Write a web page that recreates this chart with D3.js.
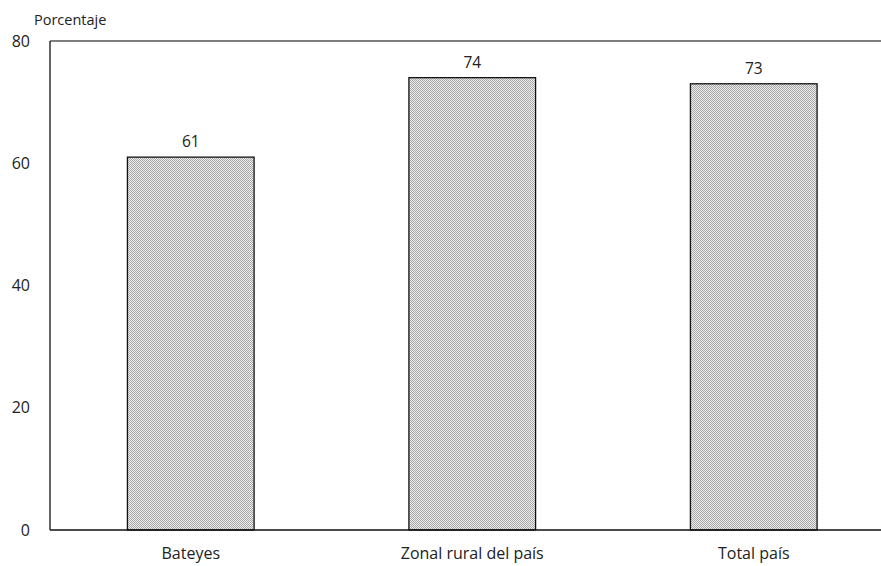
<!DOCTYPE html>
<html><head><meta charset="utf-8">
<script src="https://cdn.jsdelivr.net/npm/d3@7"></script>
<style>body{margin:0;background:#fff}svg{display:block}text{font-family:"Open Sans",Lato,sans-serif;fill:#222}</style>
</head><body><svg id="c" width="881" height="566"></svg>
<script>
const categories = ["Bateyes", "Zonal rural del país", "Total país"];
const values = [61, 74, 73];
const yTicks = [0, 20, 40, 60, 80];
const yTitle = "Porcentaje";

(function(){
const svg = d3.select("#c");
const defs = svg.append("defs");
const pat = defs.append("pattern").attr("id","dots").attr("width",2).attr("height",2).attr("patternUnits","userSpaceOnUse");
pat.append("rect").attr("width",2).attr("height",2).attr("fill","#ececec");
pat.append("rect").attr("width",1).attr("height",1).attr("fill","#a8a8a8");
pat.append("rect").attr("x",1).attr("y",1).attr("width",1).attr("height",1).attr("fill","#a8a8a8");

const mLeft = 50, mTop = 41, mBottom = 530;
const x = d3.scaleBand().domain(categories).range([mLeft, mLeft + 3*281.5]).paddingInner(0.55).paddingOuter(0.275);
const y = d3.scaleLinear().domain([0,80]).range([mBottom, mTop]);

svg.append("g").selectAll("rect").data(values).join("rect")
  .attr("x",(d,i)=>x(categories[i])).attr("width",x.bandwidth())
  .attr("y",d=>y(d)).attr("height",d=>y(0)-y(d))
  .attr("fill","url(#dots)").attr("stroke","#111").attr("stroke-width",1.3);

svg.append("g").selectAll("text").data(values).join("text")
  .attr("x",(d,i)=>x(categories[i])+x.bandwidth()/2).attr("y",d=>y(d)-10)
  .attr("text-anchor","middle").attr("font-size",15.5).text(d=>d);

svg.append("line").attr("x1",mLeft).attr("x2",881).attr("y1",mTop).attr("y2",mTop).attr("stroke","#555").attr("stroke-width",1.5);
svg.append("line").attr("x1",mLeft).attr("x2",mLeft).attr("y1",mTop).attr("y2",mBottom).attr("stroke","#111").attr("stroke-width",1.3);
svg.append("line").attr("x1",mLeft).attr("x2",881).attr("y1",mBottom).attr("y2",mBottom).attr("stroke","#111").attr("stroke-width",1.3);

const ya = d3.axisLeft(y).tickValues(yTicks).tickSize(0).tickPadding(20);
const gy = svg.append("g").attr("transform",`translate(${mLeft},0)`).call(ya);
gy.select(".domain").remove();
gy.selectAll("text").attr("font-size",16).attr("font-family","'Open Sans',Lato,sans-serif").attr("fill","#222");

const xa = d3.axisBottom(x).tickSize(0).tickPadding(18);
const gx = svg.append("g").attr("transform",`translate(0,${mBottom})`).call(xa);
gx.select(".domain").remove();
gx.selectAll("text").attr("font-size",16).attr("font-family","'Open Sans',Lato,sans-serif").attr("fill","#222");

svg.append("text").attr("x",34).attr("y",25).attr("font-size",14.5).text(yTitle);
})();
</script></body></html>
